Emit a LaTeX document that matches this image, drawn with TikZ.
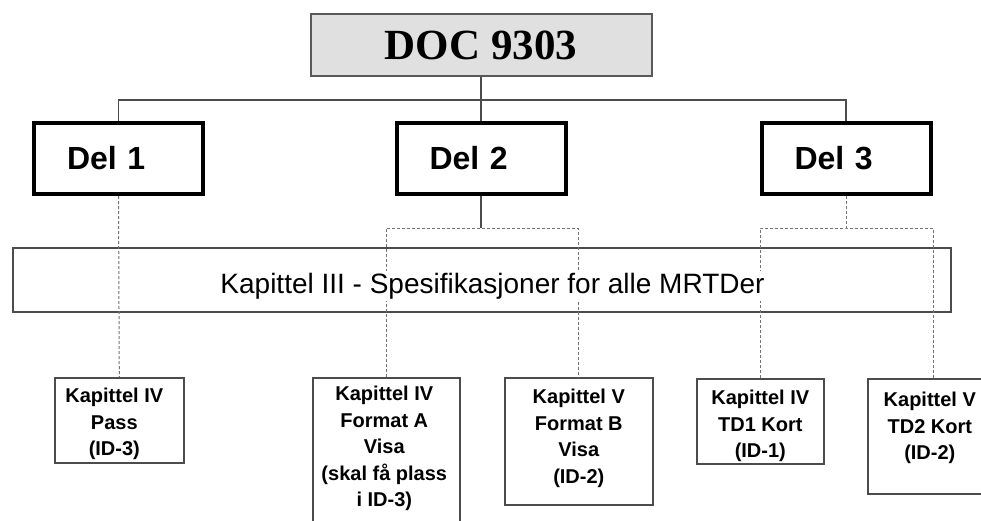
\documentclass[tikz,border=0pt]{standalone}
\usepackage{fontspec}
\setmainfont{Liberation Sans}
\newfontfamily\serifb{Liberation Serif}
\begin{document}
\begin{tikzpicture}[x=1pt,y=-1pt,
  docbox/.style={draw=black!65, line width=2pt, fill=black!12, minimum width=341pt, minimum height=62pt, inner sep=0pt, font=\serifb\bfseries\fontsize{43}{43}\selectfont},
  delbox/.style={draw=black, line width=4pt, minimum width=169pt, minimum height=71pt, inner xsep=33pt, inner ysep=0pt, text width=103pt, align=left, font=\bfseries\fontsize{32}{32}\selectfont},
  kapbox/.style={draw=black!70, line width=1.8pt, minimum width=938pt, minimum height=64pt, inner sep=0pt},
  kaptext/.style={fill=white, inner xsep=1pt, inner ysep=2pt, anchor=base, font=\fontsize{28}{28}\selectfont},
  kbox/.style={draw=black!70, line width=1.6pt, inner sep=0pt, anchor=north west},
  ktext/.style={align=center, inner sep=0pt, anchor=north, font=\bfseries\fontsize{20}{26.5}\selectfont},
  conn/.style={draw=black!70, line width=1.5pt},
  dconn/.style={draw=black!55, line width=1pt, dash pattern=on 3pt off 2pt},
]
\useasboundingbox (0,0) rectangle (981,520);
\fill[white] (0,0) rectangle (981,520);
\clip (0,0) rectangle (981,520);

% top
\node[docbox] (doc) at (481,45) {DOC 9303};
\node[delbox] (del1) at (118.5,158.5) {Del 1};
\node[delbox] (del2) at (481,158.5) {Del 2};
\node[delbox] (del3) at (846,158.5) {Del 3};

% Kapittel III box
\node[kapbox] (kap3) at (482,280) {};

% bottom boxes
\node[kbox, minimum width=129pt, minimum height=85pt] (bA) at (54,377) {};
\node[kbox, minimum width=147pt, minimum height=170pt] (bB) at (312,377) {};
\node[kbox, minimum width=148pt, minimum height=127pt] (bC) at (504,377) {};
\node[kbox, minimum width=127pt, minimum height=85pt] (bD) at (696,378) {};
\node[kbox, minimum width=132pt, minimum height=115pt] (bE) at (867,378) {};

\node[ktext] (tA) at ([xshift=-5pt,yshift=-11pt]bA.north) {Kapittel IV\\Pass\\(ID-3)};
\node[ktext] (tB) at ([xshift=-2pt,yshift=-9pt]bB.north) {Kapittel IV\\Format A\\Visa\\(skal få plass\\i ID-3)};
\node[ktext] (tC) at ([yshift=-12pt]bC.north) {Kapittel V\\Format B\\Visa\\(ID-2)};
\node[ktext] (tD) at ([yshift=-12pt]bD.north) {Kapittel IV\\TD1 Kort\\(ID-1)};
\node[ktext] (tE) at ([xshift=-4pt,yshift=-14pt]bE.north) {Kapittel V\\TD2 Kort\\(ID-2)};

% connectors
\coordinate (hub) at (481,100);
\coordinate (j2) at (481,228);
\coordinate (j3) at (846,228);
\draw[conn] (doc.south) -- (del2.north);
\draw[conn] (del1.north) |- (hub) -| (del3.north);
\draw[conn] (del2.south) -- (j2);
\draw[dconn] (del1.south) -- (bA.north);
\draw[dconn] (bB.north) |- (j2) -| (bC.north);
\draw[dconn] (del3.south) -- (j3);
\draw[dconn] (bD.north) |- (j3) -| (bE.north);

% Kapittel III text over the lines
\node[kaptext] (kap3t) at (492.5,293) {Kapittel III - Spesifikasjoner for alle MRTDer};
\end{tikzpicture}
\end{document}
